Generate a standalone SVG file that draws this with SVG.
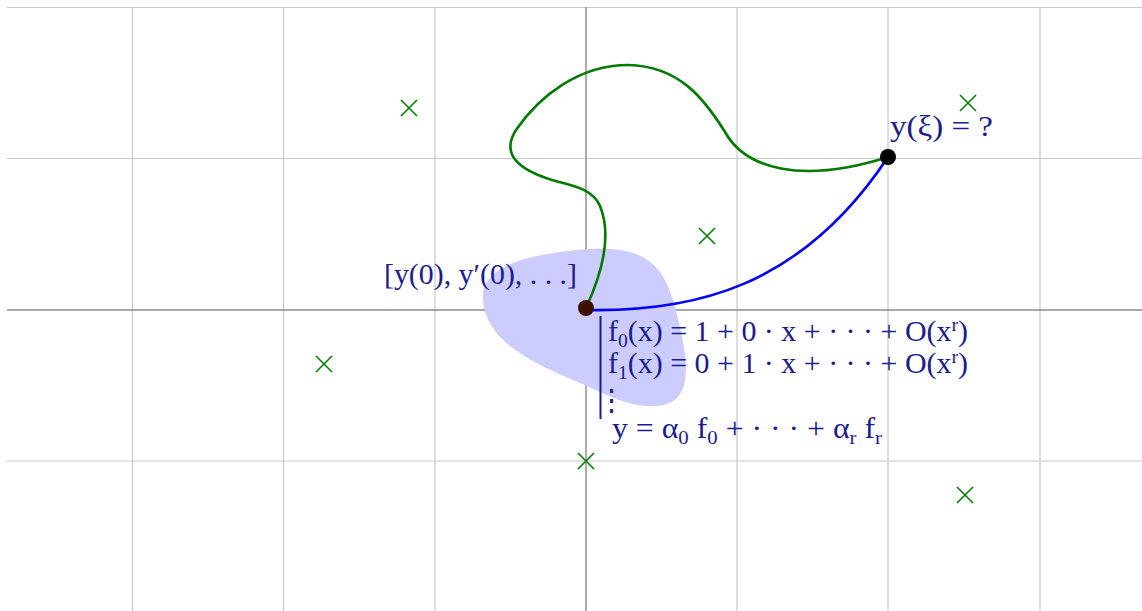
<svg xmlns="http://www.w3.org/2000/svg" width="1142" height="611" viewBox="0 0 1142 611">
<style>
.grid{stroke:#c8c8c8;stroke-width:1.2;fill:none}
.axis{stroke:#8a8a8a;stroke-width:1.4;fill:none}
.cross{stroke:#008000;stroke-width:1.6;fill:none}
.lbl{font-family:"Liberation Serif","DejaVu Serif",serif;font-size:29px;fill:#1c1c8c}
.sub{font-size:19px}
</style>
<defs>
<path id="x" d="M-8,-8L8,8M-8,8L8,-8"/>
</defs>
<rect width="1142" height="611" fill="#ffffff"/>
<g id="grid">
<path class="grid" d="M7,7.5H1142M7,158.5H1142M7,461H1142M132.5,7V611M283.5,7V611M435,7V611M737,7V611M888,7V611M1040,7V611"/>
<path class="axis" d="M7,310H1142M586,7V611"/>
</g>
<g id="region">
<path d="M483,300 C480,268 522,254 590,249 C640,246 662,262 673,300 C684,340 694,382 676,399 C660,412 628,406 600,392 C552,370 487,350 483,300Z" fill="#ccccff"/>
</g>
<g id="crosses">
<use href="#x" class="cross" x="409" y="108"/>
<use href="#x" class="cross" x="968" y="103"/>
<use href="#x" class="cross" x="707" y="236"/>
<use href="#x" class="cross" x="324" y="364"/>
<use href="#x" class="cross" x="586" y="461"/>
<use href="#x" class="cross" x="965" y="495"/>
</g>
<g id="connectors">
<path d="M586,308 C598,282 614,240 600,206 C592,188 572,186 552,180 C520,170 500,155 516,130 C540,95 580,65 628,65 C680,66 705,100 725,132 C745,168 800,185 888,157" fill="none" stroke="#007a00" stroke-width="2.6"/>
<path d="M586,310 C690,312 800,290 888,157" fill="none" stroke="#0000ff" stroke-width="2.6"/>
</g>
<g id="origin">
<circle cx="586" cy="308" r="8" fill="#3d0f00"/>
<text class="lbl" x="384" y="284" textLength="193" lengthAdjust="spacingAndGlyphs">[y(0), y′(0), . . .]</text>
</g>
<g id="target">
<circle cx="888" cy="157" r="8" fill="#000000"/>
<text class="lbl" x="890" y="136" textLength="103" lengthAdjust="spacingAndGlyphs">y(ξ) = ?</text>
</g>
<g id="basis">
<path d="M600.5,316V419" stroke="#1c1c8c" stroke-width="2"/>
<text class="lbl" x="608" y="341" textLength="360" lengthAdjust="spacingAndGlyphs">f<tspan class="sub" dy="6">0</tspan><tspan dy="-6">(x) = 1 + 0 · x + · · · + O(x</tspan><tspan class="sub" dy="-10">r</tspan><tspan dy="10">)</tspan></text>
<text class="lbl" x="608" y="373" textLength="360" lengthAdjust="spacingAndGlyphs">f<tspan class="sub" dy="6">1</tspan><tspan dy="-6">(x) = 0 + 1 · x + · · · + O(x</tspan><tspan class="sub" dy="-10">r</tspan><tspan dy="10">)</tspan></text>
<text class="lbl" x="597" y="410">⋮</text>
<text class="lbl" x="612" y="438" textLength="270" lengthAdjust="spacingAndGlyphs">y = α<tspan class="sub" dy="6">0</tspan><tspan dy="-6"> f</tspan><tspan class="sub" dy="6">0</tspan><tspan dy="-6"> + · · · + α</tspan><tspan class="sub" dy="6">r</tspan><tspan dy="-6"> f</tspan><tspan class="sub" dy="6">r</tspan></text>
</g>
</svg>
